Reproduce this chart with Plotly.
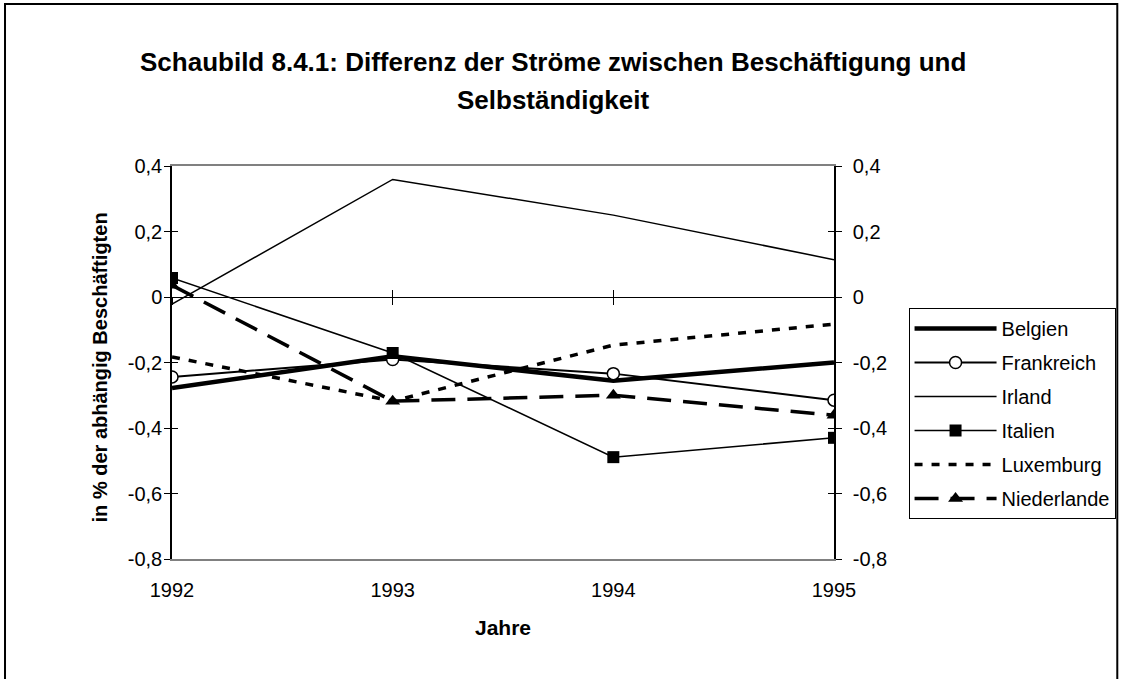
import plotly.graph_objects as go

years = [1992, 1993, 1994, 1995]
year_labels = ["1992", "1993", "1994", "1995"]

belgien = [-0.278, -0.181, -0.256, -0.200]
frankreich = [-0.244, -0.191, -0.234, -0.315]
irland = [-0.022, 0.359, 0.250, 0.114]
italien = [0.058, -0.171, -0.489, -0.430]
luxemburg = [-0.183, -0.318, -0.147, -0.083]
niederlande = [0.036, -0.318, -0.300, -0.361]

y_ticks = [0.4, 0.2, 0, -0.2, -0.4, -0.6, -0.8]
y_tick_labels = ["0,4", "0,2", "0", "-0,2", "-0,4", "-0,6", "-0,8"]

FONT = "Arial, Liberation Sans, sans-serif"

fig = go.Figure()

fig.add_trace(go.Scatter(x=years, y=belgien, name="Belgien", mode="lines",
                         line=dict(color="black", width=4.5), legendgroup="a"))
fig.add_trace(go.Scatter(x=years, y=frankreich, name="Frankreich", mode="lines+markers",
                         line=dict(color="black", width=2),
                         marker=dict(symbol="circle", size=12, color="white",
                                     line=dict(color="black", width=1.5)), legendgroup="b"))
fig.add_trace(go.Scatter(x=years, y=irland, name="Irland", mode="lines",
                         line=dict(color="black", width=1.5), legendgroup="c"))
fig.add_trace(go.Scatter(x=years, y=italien, name="Italien", mode="lines+markers",
                         line=dict(color="black", width=1.5),
                         marker=dict(symbol="square", size=12, color="black"), legendgroup="d"))
fig.add_trace(go.Scatter(x=years, y=luxemburg, name="Luxemburg", mode="lines",
                         line=dict(color="black", width=3.5, dash="8px,9px"), legendgroup="e"))
fig.add_trace(go.Scatter(x=years, y=niederlande, name="Niederlande", mode="lines+markers",
                         line=dict(color="black", width=3.5, dash="24px,12px"),
                         marker=dict(symbol="triangle-up", size=13, color="black"), legendgroup="f"))

# empty helper traces so the decorative overlay axes get drawn
for xa, ya in [("x2", "y"), ("x3", "y"), ("x", "y2"), ("x", "y3"), ("x", "y4")]:
    fig.add_trace(go.Scatter(x=[None], y=[None], xaxis=xa, yaxis=ya, mode="lines",
                             showlegend=False, hoverinfo="skip"))

W, H = 1127, 679
L, T = 172, 166
R = W - 838
B = H - 559
pw, ph = W - L - R, H - T - B

def px(xp):
    return (xp - L) / pw

def py(yp):
    return (H - B - yp) / ph

tickfont = dict(family=FONT, size=20, color="black")

fig.update_layout(
    width=W, height=H,
    margin=dict(l=L, r=R, t=T, b=B),
    paper_bgcolor="white", plot_bgcolor="white",
    showlegend=True,
    legend=dict(x=px(913), y=py(308), xanchor="left", yanchor="top",
                bordercolor="black", borderwidth=1, bgcolor="white",
                font=dict(family=FONT, size=20, color="black"),
                itemwidth=82, tracegroupgap=5),
    xaxis=dict(range=[1992, 1995], tickvals=years, ticktext=year_labels,
               showline=True, linecolor="#808080", linewidth=1.5, mirror=True,
               showgrid=False, zeroline=False, ticks="", tickfont=tickfont,
               ticklabelstandoff=12),
    xaxis2=dict(range=[1992, 1995], overlaying="x", anchor="free", position=py(296.7),
                tickvals=years, showticklabels=False, ticks="outside", ticklen=7,
                tickcolor="black", showline=True, linecolor="black", linewidth=1,
                showgrid=False, zeroline=False),
    xaxis3=dict(range=[1992, 1995], overlaying="x", anchor="free", position=py(296.7),
                tickvals=years, showticklabels=False, ticks="inside", ticklen=7,
                tickcolor="black", showline=False, showgrid=False, zeroline=False),
    yaxis=dict(range=[-0.8, 0.4], tickvals=y_ticks, ticktext=y_tick_labels,
               showline=True, linecolor="black", linewidth=1.5, ticks="outside",
               ticklen=6, tickcolor="black", showgrid=False, zeroline=False,
               tickfont=tickfont, ticklabelstandoff=-2),
    yaxis2=dict(range=[-0.8, 0.4], overlaying="y", side="left", anchor="x",
                tickvals=y_ticks, showticklabels=False, ticks="inside", ticklen=6,
                tickcolor="black", showline=False, showgrid=False, zeroline=False),
    yaxis3=dict(range=[-0.8, 0.4], overlaying="y", side="right", anchor="x",
                tickvals=y_ticks, ticktext=y_tick_labels,
                showline=True, linecolor="black", linewidth=1.5, ticks="outside",
                ticklen=6, tickcolor="black", showgrid=False, zeroline=False,
                tickfont=tickfont, ticklabelstandoff=7),
    yaxis4=dict(range=[-0.8, 0.4], overlaying="y", side="right", anchor="x",
                tickvals=y_ticks, showticklabels=False, ticks="inside", ticklen=6,
                tickcolor="black", showline=False, showgrid=False, zeroline=False),
)

fig.add_annotation(text="<b>Schaubild 8.4.1: Differenz der Ströme zwischen Beschäftigung und</b>",
                   xref="paper", yref="paper", x=px(555), y=py(62), showarrow=False,
                   xanchor="center", yanchor="middle",
                   font=dict(family=FONT, size=26, color="black"))
fig.add_annotation(text="<b>Selbständigkeit</b>",
                   xref="paper", yref="paper", x=px(555), y=py(100), showarrow=False,
                   xanchor="center", yanchor="middle",
                   font=dict(family=FONT, size=26, color="black"))
fig.add_annotation(text="<b>Jahre</b>", xref="paper", yref="paper", x=px(505), y=py(627),
                   showarrow=False, xanchor="center", yanchor="middle",
                   font=dict(family=FONT, size=21, color="black"))
fig.add_annotation(text="<b>in % der abhängig Beschäftigten</b>", xref="paper", yref="paper",
                   x=px(100), y=py(367), showarrow=False, textangle=-90,
                   xanchor="center", yanchor="middle",
                   font=dict(family=FONT, size=20, color="black"))

fig.add_shape(type="rect", xref="paper", yref="paper",
              x0=px(4), x1=px(1123), y0=py(720), y1=py(4),
              line=dict(color="black", width=2), fillcolor="rgba(0,0,0,0)", layer="below")

fig.write_html("out.html", config={"displayModeBar": False},
               post_script="document.body.style.margin='0';document.body.style.overflow='hidden';")
